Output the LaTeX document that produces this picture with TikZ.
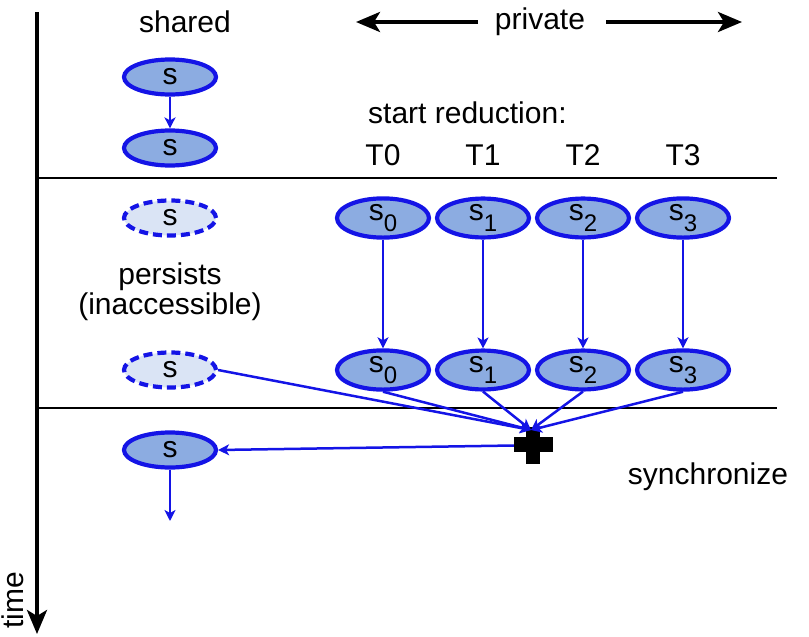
\documentclass[tikz,border=0pt]{standalone}
\usepackage{fontspec}
\setmainfont{Liberation Sans}
\usetikzlibrary{arrows.meta,shapes.geometric}
\definecolor{ebl}{RGB}{20,20,230}
\definecolor{efill}{RGB}{140,172,225}
\definecolor{dfill}{RGB}{218,228,245}
\tikzset{
  txt/.style={font=\fontsize{30}{34}\selectfont, inner sep=0pt},
  var/.style={ellipse, draw=ebl, line width=4.2pt, fill=efill, minimum width=92pt, minimum height=35pt, inner sep=0pt, font=\fontsize{30}{34}\selectfont},
  ghost/.style={var, dashed, dash pattern=on 9pt off 5pt, fill=dfill},
  flow/.style={draw=ebl, line width=2.5pt, -{Stealth[length=11pt,width=11pt,inset=3pt]}},
  axis/.style={line width=3.8pt, -{Stealth[length=24pt,width=20pt,inset=6pt]}},
  sep/.style={line width=2.4pt}
}
\newcommand{\sub}[1]{s\raisebox{-0.38em}{\fontsize{24}{24}\selectfont #1}}
\begin{document}
\begin{tikzpicture}[x=1pt,y=-1pt]
\useasboundingbox (0,0) rectangle (809,637);
% time axis
\coordinate (ttop) at (37,12);
\coordinate (tbot) at (37,634);
\draw[axis] (ttop) -- (tbot);
\node[txt, rotate=90] (time) at (13,600) {time};
% separators
\coordinate (l1a) at (37,178); \coordinate (l1b) at (777,178);
\coordinate (l2a) at (37,408); \coordinate (l2b) at (777,408);
\draw[sep] (l1a) -- (l1b);
\draw[sep] (l2a) -- (l2b);
% headers
\node[txt] (shared) at (185,22) {shared};
\node[txt] (private) at (540,22) {private};
\coordinate (pl) at (356,22); \coordinate (pla) at (478,22);
\coordinate (pr) at (742,22); \coordinate (pra) at (606,22);
\draw[axis] (pla) -- (pl);
\draw[axis] (pra) -- (pr);
\node[txt, anchor=west] (start) at (368,113) {start reduction:};
\node[txt] (T0) at (383,155) {T0};
\node[txt] (T1) at (483,155) {T1};
\node[txt] (T2) at (583,155) {T2};
\node[txt] (T3) at (683,155) {T3};
% shared column
\node[var] (sa) at (170,77) {s};
\node[var] (sb) at (170,148) {s};
\draw[flow] (sa) -- (sb);
\node[ghost] (ga) at (170,218) {s};
\node[txt] (pers) at (170,277) {persists};
\node[txt] (inacc) at (170,307) {(inaccessible)};
\node[ghost] (gb) at (170,370) {s};
\node[var] (sc) at (170,450) {s};
\coordinate (send) at (170,521);
\draw[flow] (sc) -- (send);
% private copies
\foreach \i/\x in {0/383,1/483,2/583,3/683}{
  \node[var] (p\i) at (\x,218) {\sub{\i}};
  \node[var] (q\i) at (\x,370) {\sub{\i}};
  \draw[flow] (p\i) -- (q\i);
}
% plus sign
\fill[black] (526,427) rectangle (540,464);
\fill[black] (514,437) rectangle (553,452);
\node[inner sep=0pt, minimum width=39pt, minimum height=37pt] (plusn) at (533.5,445.5) {};
\coordinate (sink) at (531,430);
\draw[flow] (gb.east) -- (sink);
\foreach \i in {0,1,2,3}{\draw[flow] (q\i.south) -- (sink);}
\draw[flow] (plusn.west) -- (sc.east);
\node[txt] (sync) at (708,477) {synchronize};
\end{tikzpicture}
\end{document}
